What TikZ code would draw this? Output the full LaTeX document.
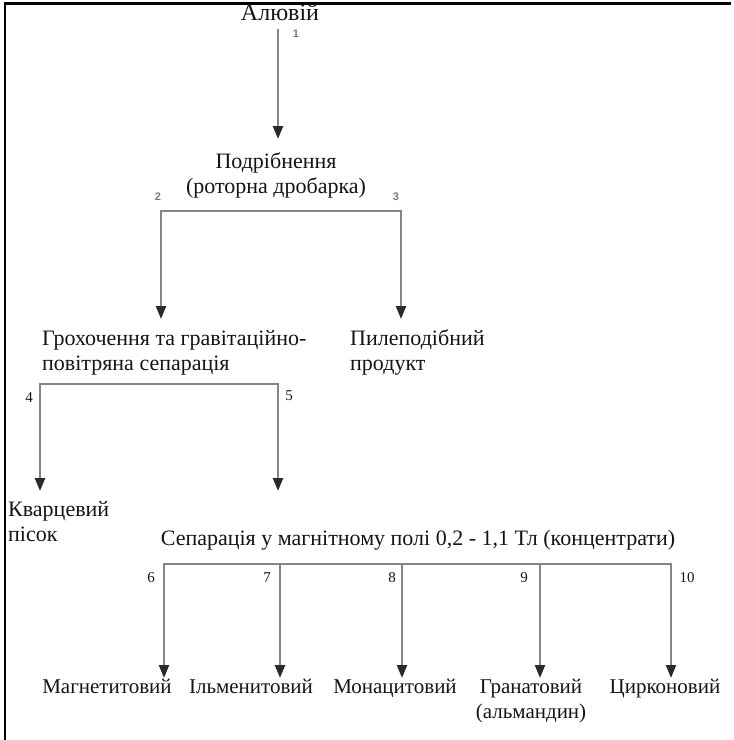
\documentclass[tikz,border=0pt]{standalone}
\usepackage{fontspec}
\setmainfont{Liberation Serif}
\setsansfont{Liberation Sans}
\usetikzlibrary{arrows.meta}
\definecolor{ink}{HTML}{141414}
\definecolor{wire}{HTML}{858585}
\definecolor{tipcol}{HTML}{2A2A2A}
\definecolor{numgray}{HTML}{7A7A7A}
\begin{document}
\begin{tikzpicture}[x=1pt,y=-1pt,
  lbl/.style={font=\fontsize{22}{25}\selectfont, text=ink, inner sep=0pt},
  lblsm/.style={font=\fontsize{21}{25}\selectfont, text=ink, inner sep=0pt},
  num/.style={font=\fontsize{15}{15}\selectfont, text=ink, inner sep=0pt},
  numsans/.style={font=\sffamily\bfseries\fontsize{11}{11}\selectfont, text=numgray, inner sep=0pt},
  flow/.style={draw=wire, line width=2.4pt, -{Triangle[length=13pt,width=10pt,color=tipcol]}},
  bar/.style={draw=wire, line width=2.4pt, line cap=rect},
  frame/.style={draw=black, line width=2.2pt}]
\useasboundingbox (0,0) rectangle (734,740);

% page frame (top and left edges)
\draw[frame] (4,3.5) -- (731,3.5);
\draw[frame] (5,2.5) -- (5,740);

% process steps and products (base anchor = last line's baseline)
\node[lbl, font=\fontsize{24}{25}\selectfont, anchor=base] (alluv) at (280,20) {Алювій};
\node[lbl, anchor=base, align=center] (crush) at (276,193) {Подрібнення\\(роторна дробарка)};
\node[lbl, anchor=base west, align=left] (screen) at (42,370) {Грохочення та гравітаційно-\\повітряна сепарація};
\node[lbl, anchor=base west, align=left] (dust) at (350,370) {Пилеподібний\\продукт};
\node[lbl, anchor=base west, align=left] (quartz) at (8,541) {Кварцевий\\пісок};
\node[lbl, anchor=base] (magsep) at (418,545) {Сепарація у магнітному полі 0,2 - 1,1 Тл (концентрати)};
\node[lblsm, anchor=base] (magn) at (107,693) {Магнетитовий};
\node[lblsm, anchor=base] (ilm) at (251,693) {Ільменитовий};
\node[lblsm, anchor=base] (mon) at (395,693) {Монацитовий};
\node[lblsm, anchor=base, align=center] (gran) at (531,718) {Гранатовий\\(альмандин)};
\node[lblsm, anchor=base] (zirc) at (665,693) {Цирконовий};

% stream 1
\coordinate (s1a) at (278,29);
\coordinate (s1b) at (278,139);
\draw[flow] (s1a) -- (s1b);
\node[numsans] at (296,34) {1};

% streams 2 and 3
\coordinate (b2) at (161,211);
\coordinate (b3) at (401,211);
\coordinate (t2) at (161,319);
\coordinate (t3) at (401,319);
\draw[bar] (b2) -- (b3);
\draw[flow] (b2) -- (t2);
\draw[flow] (b3) -- (t3);
\node[numsans] at (158,197) {2};
\node[numsans] at (396,197) {3};

% streams 4 and 5
\coordinate (b4) at (40,384);
\coordinate (b5) at (278,384);
\coordinate (t4) at (40,491);
\coordinate (t5) at (278,491);
\draw[bar] (b4) -- (b5);
\draw[flow] (b4) -- (t4);
\draw[flow] (b5) -- (t5);
\node[num] at (29,398) {4};
\node[num] at (289,396) {5};

% streams 6 to 10
\coordinate (b6) at (164,564);
\coordinate (b10) at (671,564);
\draw[bar] (b6) -- (b10);
\foreach \x/\n/\lx in {164/6/151, 280/7/267, 402/8/392, 540/9/524, 671/10/687}{
  \coordinate (c\n) at (\x,564);
  \coordinate (e\n) at (\x,678);
  \draw[flow] (c\n) -- (e\n);
  \node[num] at (\lx,578) {\n};
}
\end{tikzpicture}
\end{document}
